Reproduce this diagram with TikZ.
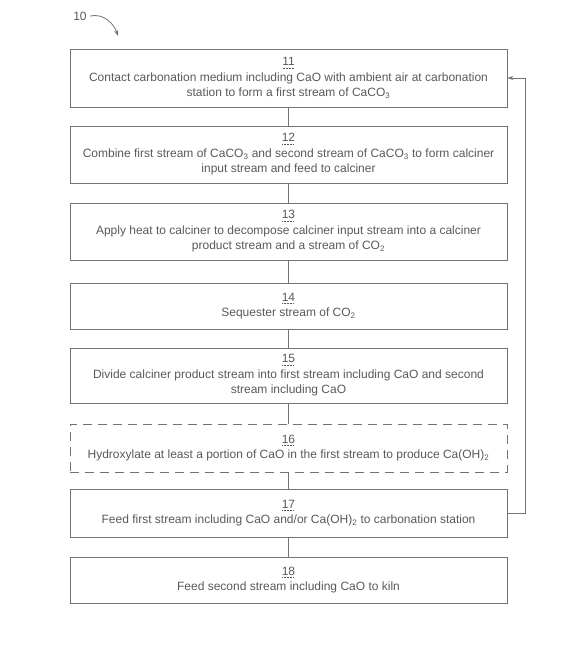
\documentclass[tikz,border=0pt]{standalone}
\usepackage{fontspec}
\setmainfont{Liberation Sans}
\usetikzlibrary{arrows.meta}

\newsavebox\numbox
\newcommand{\refnum}[1]{\sbox\numbox{#1}%
    \rlap{\raisebox{-2.5pt}{\hbox to\wd\numbox{\leaders\hbox to 1.5pt{\hss\rule{0.75pt}{0.6pt}\hss}\hfill}}}%
    \usebox\numbox}

\begin{document}
\begin{tikzpicture}[x=1pt,y=-1pt]
    \tikzstyle{stepbox}=[draw=black!55,line width=0.8pt,text=black!65,
        minimum width=437pt,align=center,inner sep=0pt,
        font=\fontsize{12}{15.5}\selectfont]
    \tikzstyle{optbox}=[stepbox,dash pattern=on 9pt off 6pt]
    \tikzstyle{flow}=[draw=black!55,line width=0.8pt]
    \useasboundingbox (0,0) rectangle (582,654);
    % Figure label
    \node[text=black!65,font=\fontsize{12}{14}\selectfont] (fig) at (80,16) {10};
    \coordinate (figtip) at (118,36);
    \draw[flow,-{Stealth[length=6pt,width=4pt]}] (fig.east) .. controls (104,13) and (114,24) .. (figtip);
    % Steps
    \node[stepbox,minimum height=58pt] (s11) at (288.5,78) {\refnum{11}\\
        Contact carbonation medium including CaO with ambient air at carbonation\\
        station to form a first stream of CaCO\textsubscript{3}};
    \node[stepbox,minimum height=57pt] (s12) at (288.5,154.5) {\refnum{12}\\
        Combine first stream of CaCO\textsubscript{3} and second stream of CaCO\textsubscript{3} to form calciner\\
        input stream and feed to calciner};
    \node[stepbox,minimum height=57pt] (s13) at (288.5,231.5) {\refnum{13}\\
        Apply heat to calciner to decompose calciner input stream into a calciner\\
        product stream and a stream of CO\textsubscript{2}};
    \node[stepbox,minimum height=46pt] (s14) at (288.5,306) {\refnum{14}\\
        Sequester stream of CO\textsubscript{2}};
    \node[stepbox,minimum height=55pt] (s15) at (288.5,375.5) {\refnum{15}\\
        Divide calciner product stream into first stream including CaO and second\\
        stream including CaO};
    \node[optbox,minimum height=48pt] (s16) at (288.5,448) {\refnum{16}\\
        Hydroxylate at least a portion of CaO in the first stream to produce Ca(OH)\textsubscript{2}};
    \node[stepbox,minimum height=48pt] (s17) at (288.5,513) {\refnum{17}\\
        Feed first stream including CaO and/or Ca(OH)\textsubscript{2} to carbonation station};
    \node[stepbox,minimum height=46pt] (s18) at (288.5,580) {\refnum{18}\\
        Feed second stream including CaO to kiln};
    % Links
    \foreach \a/\b in {s11/s12,s12/s13,s13/s14,s14/s15,s15/s16,s16/s17,s17/s18}
        \draw[flow] (\a) -- (\b);
    % Return line
    \coordinate (back) at (525,513);
    \draw[flow,-{Stealth[length=6pt,width=4pt]}] (s17.east) -- (back) |- (s11.east);
\end{tikzpicture}
\end{document}
